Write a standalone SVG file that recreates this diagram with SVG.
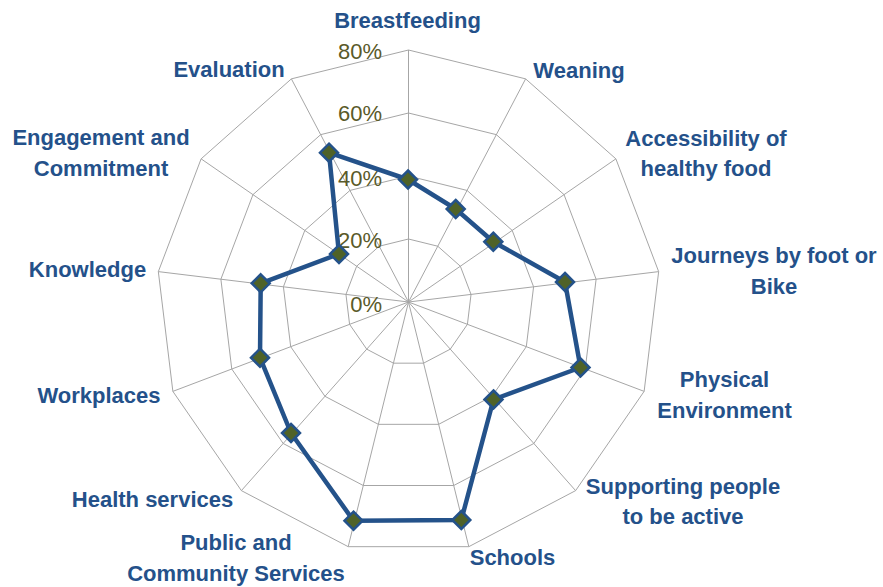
<svg xmlns="http://www.w3.org/2000/svg" width="883" height="587" viewBox="0 0 883 587">
<style>
.grid{fill:none;stroke:#a6a6a6;stroke-width:1}
.tick{font-family:"Liberation Sans",Arial,sans-serif;font-size:22px;fill:#5a5a29;text-anchor:end}
.lbl{font-family:"Liberation Sans",Arial,sans-serif;font-size:22px;font-weight:bold;fill:#24518a;text-anchor:middle}
.series{fill:none;stroke:#24528a;stroke-width:4.5;stroke-linejoin:round}
.mk{fill:#4f6228;stroke:#24528a;stroke-width:2.5}
</style>
<defs>
<path id="dm" d="M0,-9 L9,0 L0,9 L-9,0 Z"/>
</defs>
<rect width="883" height="587" fill="#ffffff"/>
<g id="grid">
<polygon class="grid" points="408.5,50 525.61,78.86 615.89,158.85 658.66,271.62 644.13,391.36 575.61,490.62 468.81,546.68 348.19,546.68 241.39,490.62 172.87,391.36 158.34,271.62 201.11,158.85 291.39,78.86"/>
<polygon class="grid" points="408.5,113 496.33,134.65 564.04,194.64 596.12,279.22 585.22,369.02 533.83,443.47 453.73,485.51 363.27,485.51 283.17,443.47 231.78,369.02 220.88,279.22 252.96,194.64 320.67,134.65"/>
<polygon class="grid" points="408.5,176 467.05,190.43 512.2,230.42 533.58,286.81 526.31,346.68 492.05,396.31 438.65,424.34 378.35,424.34 324.95,396.31 290.69,346.68 283.42,286.81 304.8,230.42 349.95,190.43"/>
<polygon class="grid" points="408.5,239 437.78,246.22 460.35,266.21 471.04,294.41 467.41,324.34 450.28,349.16 423.58,363.17 393.42,363.17 366.72,349.16 349.59,324.34 345.96,294.41 356.65,266.21 379.22,246.22"/>
<path class="grid" d="M408.5,302 L408.5,50 M408.5,302 L525.61,78.86 M408.5,302 L615.89,158.85 M408.5,302 L658.66,271.62 M408.5,302 L644.13,391.36 M408.5,302 L575.61,490.62 M408.5,302 L468.81,546.68 M408.5,302 L348.19,546.68 M408.5,302 L241.39,490.62 M408.5,302 L172.87,391.36 M408.5,302 L158.34,271.62 M408.5,302 L201.11,158.85 M408.5,302 L291.39,78.86"/>
</g>
<g id="ticks">
<text class="tick" x="382" y="59">80%</text>
<text class="tick" x="382" y="121">60%</text>
<text class="tick" x="382" y="186">40%</text>
<text class="tick" x="382" y="248">20%</text>
<text class="tick" x="382" y="312">0%</text>
</g>
<g id="connectors">
<polygon class="series" points="408,179.5 455.7,209 493.3,241.7 565,282 580.5,367.5 493.5,399.5 461.3,520 353.5,520.7 291,433 260,357.7 260.7,283.3 339,254 329,152.7"/>
</g>
<g id="markers">
<use href="#dm" class="mk" x="408" y="179.5"/>
<use href="#dm" class="mk" x="455.7" y="209"/>
<use href="#dm" class="mk" x="493.3" y="241.7"/>
<use href="#dm" class="mk" x="565" y="282"/>
<use href="#dm" class="mk" x="580.5" y="367.5"/>
<use href="#dm" class="mk" x="493.5" y="399.5"/>
<use href="#dm" class="mk" x="461.3" y="520"/>
<use href="#dm" class="mk" x="353.5" y="520.7"/>
<use href="#dm" class="mk" x="291" y="433"/>
<use href="#dm" class="mk" x="260" y="357.7"/>
<use href="#dm" class="mk" x="260.7" y="283.3"/>
<use href="#dm" class="mk" x="339" y="254"/>
<use href="#dm" class="mk" x="329" y="152.7"/>
</g>
<g id="breastfeeding"><text class="lbl" x="407.5" y="28">Breastfeeding</text></g>
<g id="weaning"><text class="lbl" x="579" y="78">Weaning</text></g>
<g id="accessibility"><text class="lbl" x="706" y="146">Accessibility of</text><text class="lbl" x="706" y="176">healthy food</text></g>
<g id="journeys"><text class="lbl" x="774" y="263">Journeys by foot or</text><text class="lbl" x="774" y="294">Bike</text></g>
<g id="physical"><text class="lbl" x="724.5" y="387">Physical</text><text class="lbl" x="724.5" y="418">Environment</text></g>
<g id="supporting"><text class="lbl" x="683" y="494">Supporting people</text><text class="lbl" x="683" y="524">to be active</text></g>
<g id="schools"><text class="lbl" x="512.5" y="565">Schools</text></g>
<g id="public"><text class="lbl" x="236" y="550">Public and</text><text class="lbl" x="236" y="581">Community Services</text></g>
<g id="health"><text class="lbl" x="152.5" y="507">Health services</text></g>
<g id="workplaces"><text class="lbl" x="99" y="403">Workplaces</text></g>
<g id="knowledge"><text class="lbl" x="87.5" y="277">Knowledge</text></g>
<g id="engagement"><text class="lbl" x="101" y="145">Engagement and</text><text class="lbl" x="101" y="176">Commitment</text></g>
<g id="evaluation"><text class="lbl" x="229" y="77">Evaluation</text></g>
</svg>
